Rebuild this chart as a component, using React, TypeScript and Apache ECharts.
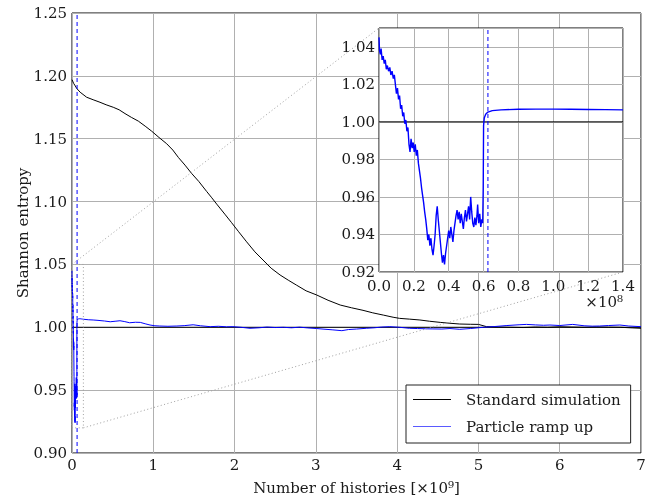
import React, { useEffect, useRef } from "react";
import * as echarts from "echarts";

// Standard simulation (x in 1e9 histories)
const standardX = [0, 0.02, 0.04, 0.058, 0.1, 0.18, 0.26, 0.344, 0.42, 0.508, 0.58, 0.652, 0.73, 0.816, 0.9, 0.98, 1.07, 1.165, 1.24, 1.31, 1.39, 1.47, 1.56, 1.657, 1.72, 1.78, 1.88, 1.96, 2.05, 2.148, 2.25, 2.35, 2.45, 2.56, 2.66, 2.76, 2.88, 3.01, 3.15, 3.3, 3.44, 3.58, 3.7, 3.83, 3.95, 4.03, 4.15, 4.28, 4.4, 4.53, 4.65, 4.77, 4.9, 5.0, 5.1, 5.25, 5.39, 5.55, 5.7, 5.85, 6.0, 6.15, 6.3, 6.45, 6.6, 6.75, 6.9, 7.0];
const standardY = [1.197, 1.194, 1.192, 1.19, 1.187, 1.183, 1.181, 1.179, 1.177, 1.175, 1.173, 1.17, 1.167, 1.164, 1.16, 1.156, 1.151, 1.146, 1.141, 1.135, 1.129, 1.1225, 1.116, 1.108, 1.103, 1.098, 1.09, 1.0835, 1.076, 1.068, 1.06, 1.0535, 1.047, 1.0416, 1.0375, 1.0336, 1.029, 1.0257, 1.0215, 1.0177, 1.0155, 1.0135, 1.0115, 1.0097, 1.008, 1.0071, 1.0065, 1.0058, 1.0048, 1.0039, 1.0032, 1.0026, 1.0024, 1.0023, 1.0005, 1.0002, 1.0, 0.9998, 1.0002, 1.0, 1.0004, 1.0002, 1.0, 1.0003, 1.0001, 1.0, 0.9995, 0.9992];

// Particle ramp up, early part (x in 1e8 histories)
const rampEarlyX = [0, 0.003, 0.008, 0.012, 0.018, 0.024, 0.03, 0.036, 0.042, 0.048, 0.055, 0.062, 0.068, 0.075, 0.082, 0.088, 0.094, 0.1, 0.106, 0.112, 0.118, 0.124, 0.13, 0.136, 0.142, 0.148, 0.154, 0.16, 0.166, 0.172, 0.178, 0.184, 0.19, 0.196, 0.202, 0.208, 0.214, 0.22, 0.226, 0.232, 0.238, 0.244, 0.25, 0.256, 0.262, 0.268, 0.274, 0.28, 0.286, 0.292, 0.298, 0.304, 0.31, 0.316, 0.322, 0.328, 0.334, 0.34, 0.346, 0.352, 0.358, 0.364, 0.37, 0.376, 0.382, 0.388, 0.394, 0.4, 0.406, 0.412, 0.418, 0.424, 0.43, 0.436, 0.442, 0.448, 0.454, 0.46, 0.466, 0.472, 0.478, 0.484, 0.49, 0.496, 0.502, 0.508, 0.514, 0.52, 0.526, 0.532, 0.538, 0.544, 0.55, 0.556, 0.562, 0.566, 0.572, 0.578, 0.584, 0.59, 0.595, 0.598, 0.6, 0.604, 0.612, 0.625, 0.65, 0.7, 0.8, 0.9, 1.0, 1.1, 1.2, 1.3, 1.4];
const rampEarlyY = [1.045, 1.038, 1.036, 1.039, 1.033, 1.035, 1.031, 1.033, 1.028, 1.03, 1.027, 1.029, 1.025, 1.027, 1.023, 1.025, 1.02, 1.015, 1.018, 1.012, 1.014, 1.007, 1.009, 1.003, 1.005, 0.999, 1.001, 0.995, 0.997, 0.988, 0.984, 0.991, 0.986, 0.989, 0.984, 0.988, 0.982, 0.985, 0.978, 0.974, 0.97, 0.965, 0.961, 0.957, 0.952, 0.948, 0.943, 0.937, 0.94, 0.934, 0.938, 0.932, 0.929, 0.934, 0.94, 0.95, 0.955, 0.948, 0.942, 0.936, 0.93, 0.925, 0.929, 0.924, 0.93, 0.934, 0.938, 0.942, 0.938, 0.944, 0.94, 0.936, 0.942, 0.946, 0.95, 0.953, 0.948, 0.952, 0.946, 0.951, 0.947, 0.943, 0.949, 0.953, 0.947, 0.951, 0.955, 0.948, 0.96, 0.952, 0.946, 0.944, 0.949, 0.945, 0.95, 0.956, 0.946, 0.951, 0.944, 0.948, 0.946, 0.965, 0.998, 1.002, 1.004, 1.0052, 1.006, 1.0064, 1.0067, 1.0068, 1.0068, 1.0067, 1.0066, 1.0065, 1.0064];

// Particle ramp up, later part (x in 1e9 histories)
const rampLateX = [0.2, 0.26, 0.32, 0.4, 0.47, 0.53, 0.59, 0.65, 0.71, 0.78, 0.84, 0.9, 0.96, 1.02, 1.08, 1.18, 1.29, 1.38, 1.49, 1.58, 1.7, 1.8, 1.9, 1.98, 2.08, 2.19, 2.3, 2.4, 2.5, 2.6, 2.7, 2.8, 2.9, 3.01, 3.1, 3.2, 3.32, 3.4, 3.5, 3.62, 3.72, 3.81, 3.91, 4.03, 4.15, 4.25, 4.35, 4.44, 4.55, 4.65, 4.77, 4.9, 5.06, 5.2, 5.35, 5.5, 5.59, 5.7, 5.8, 5.88, 6.0, 6.16, 6.3, 6.4, 6.49, 6.6, 6.74, 6.85, 7.0];
const rampLateY = [1.006, 1.0058, 1.0055, 1.005, 1.0044, 1.0048, 1.0052, 1.0045, 1.0036, 1.004, 1.0039, 1.0028, 1.0018, 1.0012, 1.001, 1.0008, 1.001, 1.0013, 1.002, 1.0012, 1.0005, 1.0008, 1.0004, 1.0005, 1.0, 0.9992, 0.9996, 1.0002, 0.9998, 1.0, 0.9996, 1.0001, 0.9995, 0.999, 0.9985, 0.998, 0.9973, 0.9982, 0.9986, 0.9992, 0.9996, 1.0002, 1.0005, 1.0, 0.9992, 0.999, 0.9988, 0.9987, 0.9986, 0.999, 0.9984, 0.999, 1.0, 1.0006, 1.0014, 1.002, 1.0023, 1.0019, 1.0016, 1.0018, 1.0014, 1.0023, 1.0012, 1.0009, 1.001, 1.0014, 1.0018, 1.001, 1.0005];

const rampFullX = 0.0625; // ×1e9, end of ramp (dashed line)
const referenceY = 1.0;
const mainXRange = [0, 7];
const mainYRange = [0.9, 1.25];
const insetXRange = [0, 1.4]; // ×1e8
const insetYRange = [0.92, 1.05];

const FONT = "DejaVu Serif";
const FS = 15;
const TEXT = "#1a1a1a";
const GRIDC = "#b0b0b0";
const BLUE = "#0000ff";

export default function App() {
  const ref = useRef<HTMLDivElement>(null);
  useEffect(() => {
    if (!ref.current) return;
    const chart = echarts.init(ref.current, undefined, { renderer: "svg" });

    const standard = standardX.map((x, i) => [x, standardY[i]]);
    const early = rampEarlyX.map((x, i) => [x, rampEarlyY[i]]);
    const rampMain = [
      ...rampEarlyX.map((x, i) => [x / 10, rampEarlyY[i]]),
      ...rampLateX.map((x, i) => [x, rampLateY[i]]),
    ];

    const axisLabel = { color: TEXT, fontFamily: FONT, fontSize: FS };
    const split = { show: true, lineStyle: { color: GRIDC, width: 1 } };
    const noLine = { show: false };

    chart.setOption({
      animation: false,
      textStyle: { fontFamily: FONT },
      grid: [
        { left: 72, right: 13, top: 13, bottom: 47, show: true, borderColor: "#000", borderWidth: 1, backgroundColor: "#fff", z: 0 },
        { left: 379, right: 31, top: 28, bottom: 228, show: true, borderColor: "#000", borderWidth: 1, backgroundColor: "#fff", z: 10 },
      ],
      xAxis: [
        {
          type: "value", gridIndex: 0, min: mainXRange[0], max: mainXRange[1], interval: 1,
          axisLine: noLine, axisTick: noLine, axisLabel: { ...axisLabel, margin: 4 }, splitLine: split,
          name: "Number of histories [×10⁹]", nameLocation: "middle", nameGap: 27,
          nameTextStyle: { color: TEXT, fontFamily: FONT, fontSize: FS },
        },
        {
          type: "value", gridIndex: 1, min: insetXRange[0], max: insetXRange[1], interval: 0.2, z: 11,
          axisLine: noLine, axisTick: noLine,
          axisLabel: { ...axisLabel, margin: 6, formatter: (v: number) => v.toFixed(1) }, splitLine: split,
        },
      ],
      yAxis: [
        {
          type: "value", gridIndex: 0, min: mainYRange[0], max: mainYRange[1], interval: 0.05,
          axisLine: noLine, axisTick: noLine,
          axisLabel: { ...axisLabel, margin: 5, formatter: (v: number) => v.toFixed(2) }, splitLine: split,
          name: "Shannon entropy", nameLocation: "middle", nameGap: 42, nameMoveOverlap: false,
          nameTextStyle: { color: TEXT, fontFamily: FONT, fontSize: FS },
        },
        {
          type: "value", gridIndex: 1, min: insetYRange[0], max: insetYRange[1], interval: 0.02, z: 11,
          axisLine: noLine, axisTick: noLine,
          axisLabel: { ...axisLabel, margin: 4, showMaxLabel: false, formatter: (v: number) => v.toFixed(2) }, splitLine: split,
        },
      ],
      legend: {
        data: [
          { name: "Standard simulation", itemStyle: { color: "#000" } },
          { name: "Particle ramp up", itemStyle: { color: "#5a5aff" } },
        ],
        orient: "vertical", left: 406, top: 385,
        icon: "rect", itemWidth: 38, itemHeight: 1,
        backgroundColor: "#fff", borderColor: "#222", borderWidth: 1, borderRadius: 0,
        padding: [7, 10, 9, 7], itemGap: 12,
        textStyle: { color: TEXT, fontFamily: FONT, fontSize: FS, padding: [0, 0, 0, 10] },
        z: 20,
      },
      series: [
        {
          name: "ref main", type: "line", xAxisIndex: 0, yAxisIndex: 0, silent: true,
          data: [[mainXRange[0], referenceY], [mainXRange[1], referenceY]],
          symbol: "none", lineStyle: { color: "#000", width: 1 }, z: 2,
        },
        {
          name: "Standard simulation", type: "line", xAxisIndex: 0, yAxisIndex: 0,
          data: standard, symbol: "none", lineStyle: { color: "#000", width: 1 }, itemStyle: { color: "#000" }, z: 3,
        },
        {
          name: "Particle ramp up", type: "line", xAxisIndex: 0, yAxisIndex: 0,
          data: rampMain, symbol: "none", lineStyle: { color: BLUE, width: 1 }, itemStyle: { color: BLUE }, z: 4,
        },
        {
          name: "dash main", type: "line", xAxisIndex: 0, yAxisIndex: 0, silent: true,
          data: [[rampFullX, mainYRange[0]], [rampFullX, mainYRange[1]]],
          symbol: "none", lineStyle: { color: BLUE, width: 1, type: [4, 3] }, z: 4,
        },
        {
          name: "ref inset", type: "line", xAxisIndex: 1, yAxisIndex: 1, silent: true,
          data: [[insetXRange[0], referenceY], [insetXRange[1], referenceY]],
          symbol: "none", lineStyle: { color: "#000", width: 1 }, z: 12,
        },
        {
          name: "inset ramp", type: "line", xAxisIndex: 1, yAxisIndex: 1,
          data: early, symbol: "none", lineStyle: { color: BLUE, width: 1.4 }, itemStyle: { color: BLUE }, z: 13,
        },
        {
          name: "dash inset", type: "line", xAxisIndex: 1, yAxisIndex: 1, silent: true,
          data: [[rampFullX * 10, insetYRange[0]], [rampFullX * 10, insetYRange[1]]],
          symbol: "none", lineStyle: { color: BLUE, width: 1, type: [4, 3] }, z: 13,
        },
      ],
    });

    const p = (g: number, pt: number[]) => chart.convertToPixel({ gridIndex: g } as any, pt) as number[];
    const boxTL = p(0, [insetXRange[0] / 10, insetYRange[1]]);
    const boxBR = p(0, [insetXRange[1] / 10, insetYRange[0]]);
    const insTL = p(1, [insetXRange[0], insetYRange[1]]);
    const insBR = p(1, [insetXRange[1], insetYRange[0]]);
    const dotted = { stroke: "#a0a0a0", lineWidth: 1, lineDash: [1, 2.5], fill: null };

    chart.setOption({
      graphic: [
        { type: "rect", z: 5, silent: true, shape: { x: boxTL[0], y: boxTL[1], width: boxBR[0] - boxTL[0], height: boxBR[1] - boxTL[1] }, style: dotted },
        { type: "line", z: 5, silent: true, shape: { x1: boxTL[0], y1: boxTL[1], x2: insTL[0], y2: insTL[1] }, style: dotted },
        { type: "line", z: 5, silent: true, shape: { x1: boxBR[0], y1: boxBR[1], x2: insBR[0], y2: insBR[1] }, style: dotted },
        {
          type: "text", z: 15, silent: true, x: insBR[0], y: insBR[1] + 30,
          style: { text: "×10⁸", fill: TEXT, font: `${FS}px "${FONT}"`, align: "right", verticalAlign: "middle" },
        },
      ],
    });

    return () => chart.dispose();
  }, []);
  return <div ref={ref} style={{ position: "fixed", left: 0, top: 0, width: 654, height: 500 }} />;
}
